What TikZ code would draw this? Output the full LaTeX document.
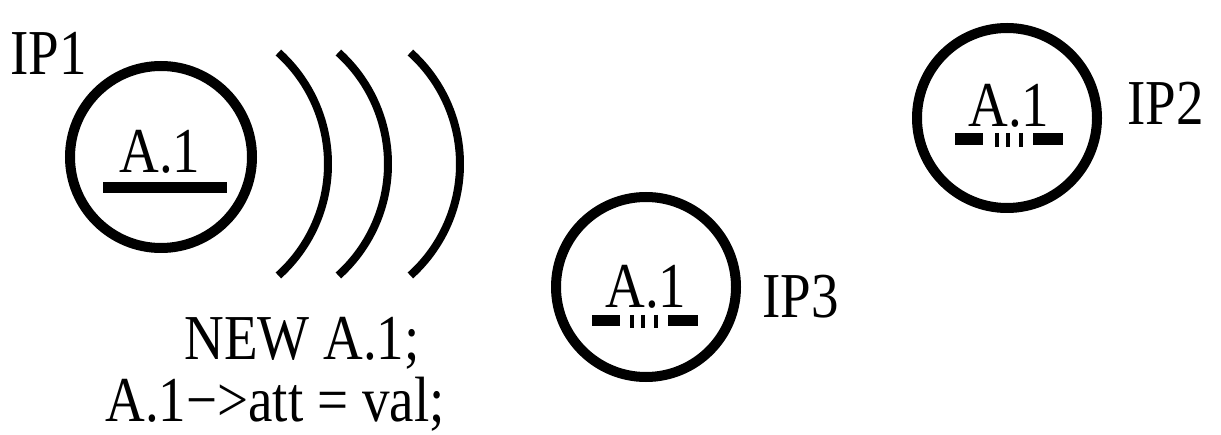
\documentclass[tikz,border=0pt]{standalone}
\usepackage{fontspec}
\setmainfont{Liberation Serif}[FakeStretch=0.86]
\begin{document}
\begin{tikzpicture}[x=1pt,y=-1pt,
  txt/.style={inner sep=0pt, anchor=base, font=\fontsize{64}{70}\selectfont},
  ring/.style={circle, draw=black, line width=10pt, minimum size=#1, inner sep=0pt},
  wave/.style={draw=black, line width=8pt},
  bar/.style={fill=black, draw=none},
  tick/.style={draw=black, line width=3.5pt}]
\useasboundingbox (0,0) rectangle (1221,435);
\fill[white] (0,0) rectangle (1221,435);
% circles
\node[ring=182pt] (c1) at (161,157) {};
\node[ring=180pt] (c3) at (646,287) {};
\node[ring=180pt] (c2) at (1007,118) {};
% labels
\node[txt, anchor=base west] (ip1) at (10,75) {IP1};
\node[txt, anchor=base west] (ip2) at (1127,125) {IP2};
\node[txt, anchor=base west] (ip3) at (762,318) {IP3};
\node[txt] (a1) at (160,173) {A.1};
\node[txt] (a3) at (646,308) {A.1};
\node[txt] (a2) at (1009,127) {A.1};
\node[txt] (l1) at (302,360) {NEW A.1;};
\node[txt] (l2) at (275,421) {A.1−>att = val;};
% bars
\fill[bar] (103,182) rectangle (227,193);
\fill[bar] (592,315) rectangle (620,326);
\fill[bar] (668,315) rectangle (698,326);
\draw[tick] (632,315) -- (632,328);
\draw[tick] (643,315) -- (643,328);
\draw[tick] (656,315) -- (656,328);
\fill[bar] (955,133) rectangle (983,145);
\fill[bar] (1033,133) rectangle (1063,145);
\draw[tick] (997,133) -- (997,147);
\draw[tick] (1008,133) -- (1008,147);
\draw[tick] (1021,133) -- (1021,147);
% waves
\coordinate (w1) at (178,164);
\coordinate (w2) at (238,164);
\coordinate (w3) at (310,164);
\foreach \w in {w1,w2,w3}
  \draw[wave] (\w) ++(-48:150pt) arc[start angle=-48, end angle=48, radius=150pt];
\end{tikzpicture}
\end{document}
